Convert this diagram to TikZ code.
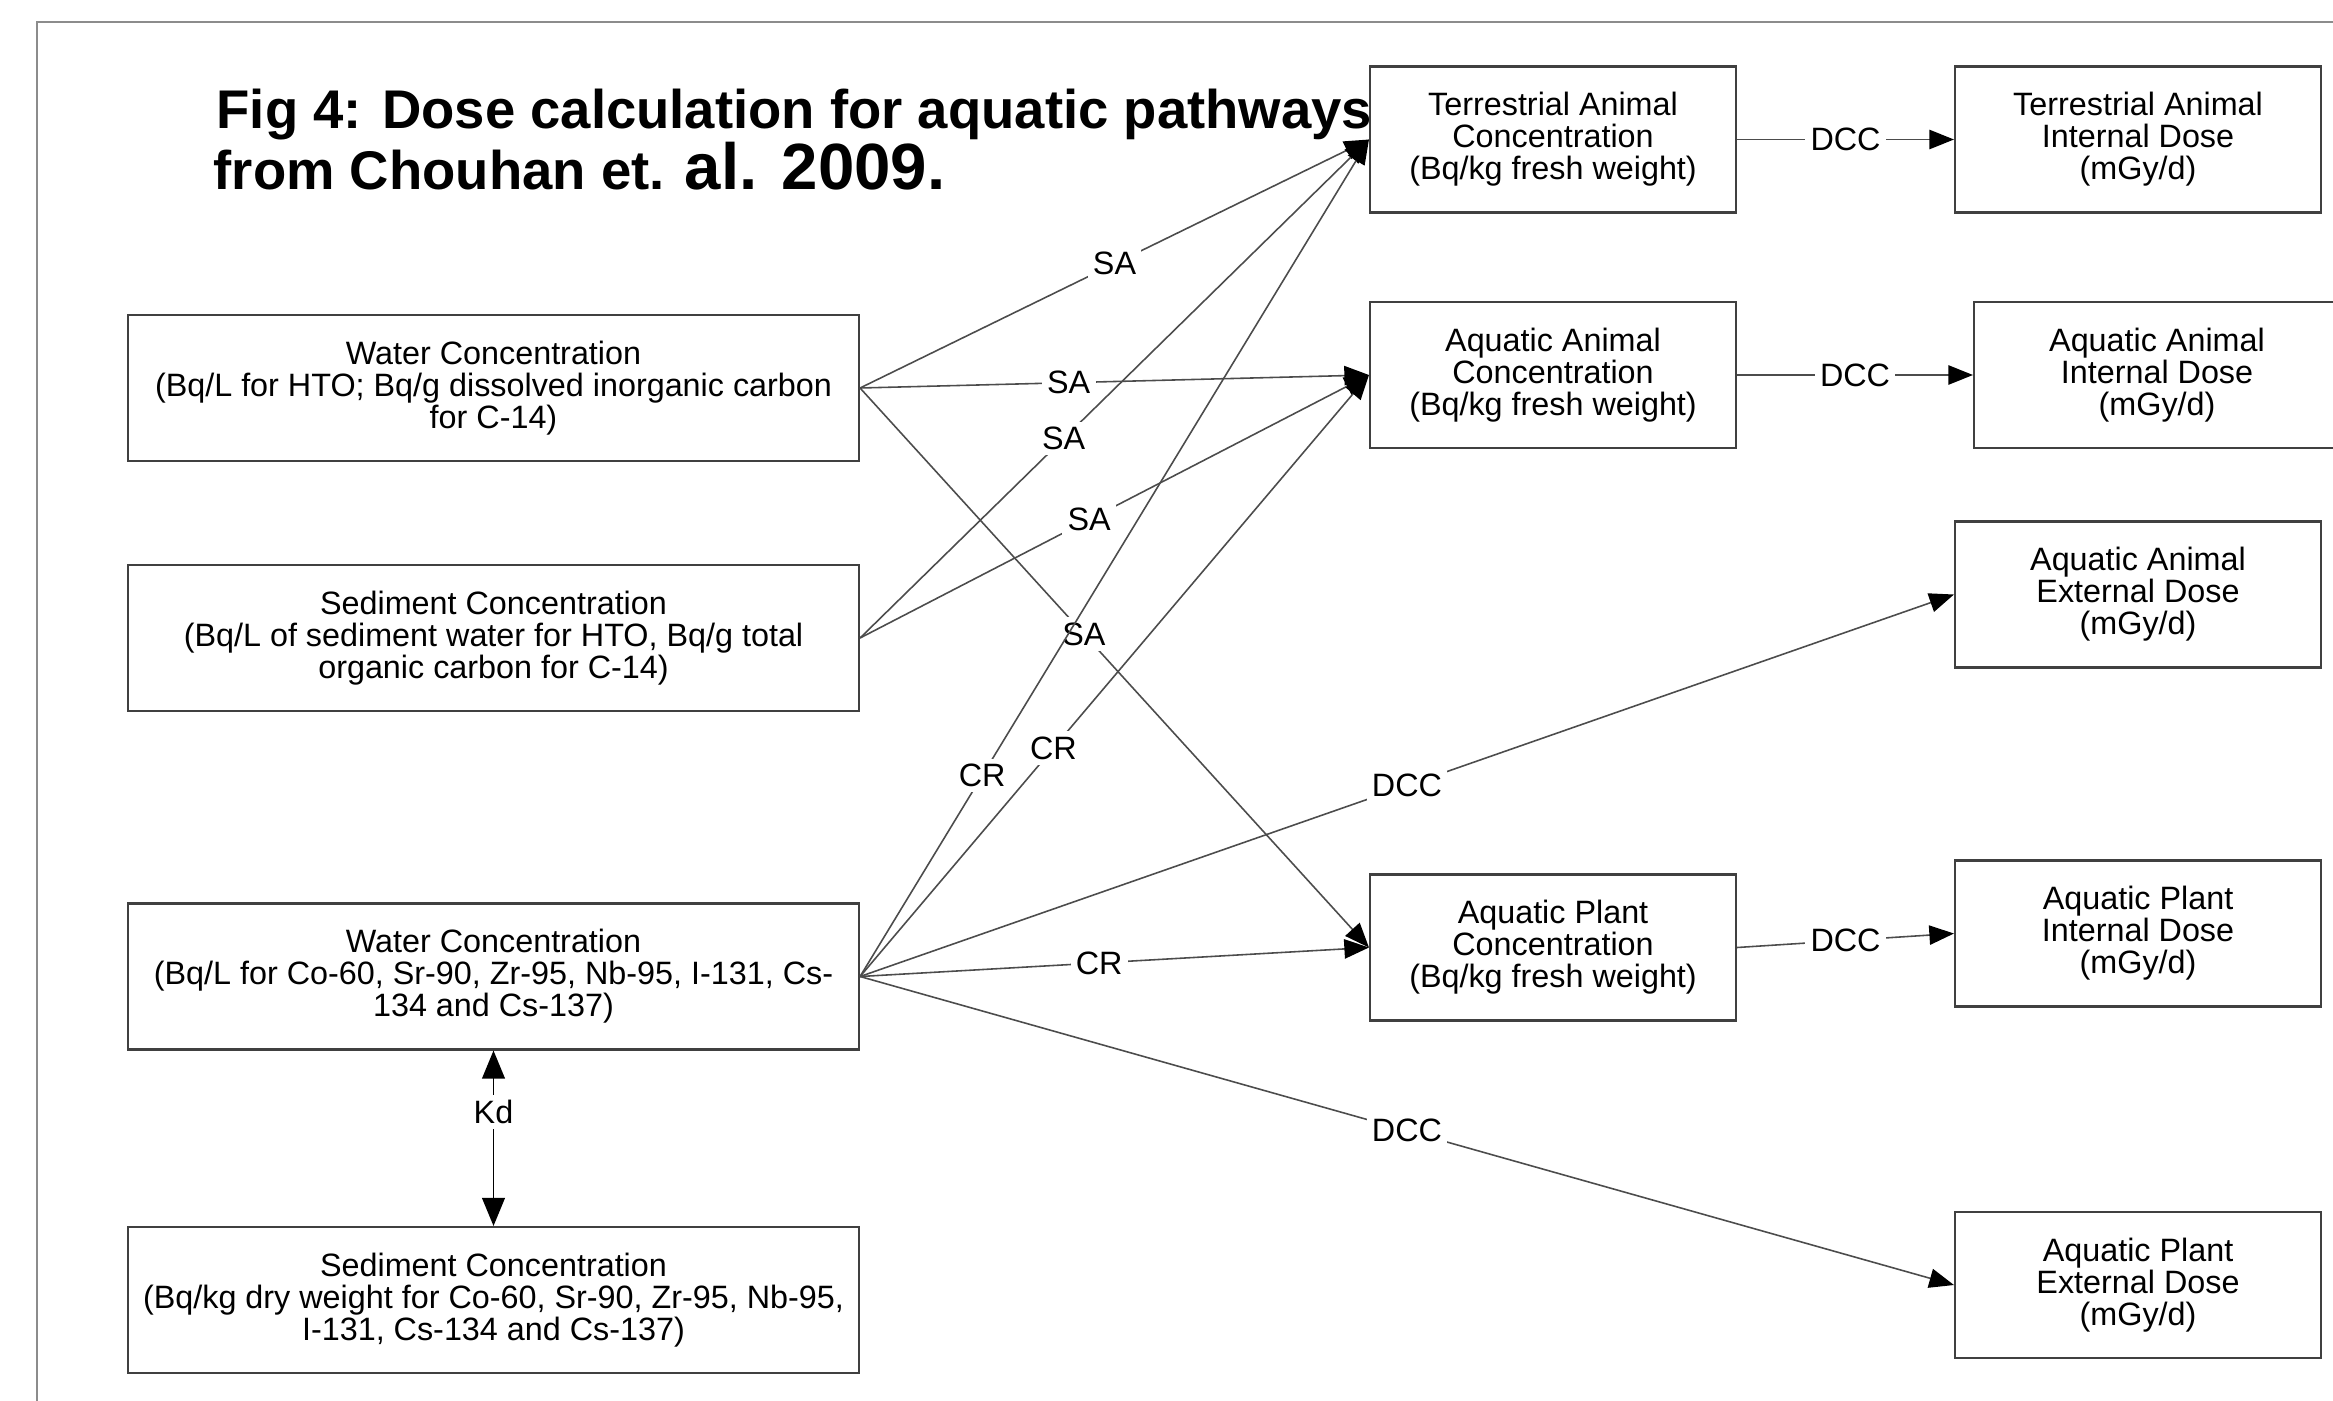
\documentclass[tikz,border=0pt]{standalone}
\usepackage{fontspec}
\setmainfont{Liberation Sans}
\usetikzlibrary{arrows.meta, positioning}

\begin{document}
\begin{tikzpicture}[
  pool/.style={
    draw=black!75, line width=0.6pt, minimum width=7.31cm, minimum height=1.46cm,
    align=center, inner sep=0pt, font=\fontsize{9.2}{9.1}\selectfont
  },
  dose/.style={pool, minimum width=3.66cm},
  factor/.style={fill=white, inner sep=1.5pt, font=\fontsize{9.2}{9.1}\selectfont},
  link/.style={draw=black!70, line width=0.45pt, -{Triangle[length=7pt,width=5.5pt,color=black]}},
  heading/.style={anchor=base west, inner sep=0pt, font=\fontsize{15.5}{18}\selectfont\bfseries}
]
\useasboundingbox (0,0) rectangle (23.33,-14);

% Page frame (runs off the right and bottom edges)
\begin{scope}
  \clip (0,0) rectangle (23.33,-14);
  \draw[black!45, line width=0.7pt] (0.37,-15) -- (0.37,-0.22) -- (24,-0.22);
\end{scope}

% Title
\node[heading] (title1) at (2.16,-1.28) {Fig 4: Dose calculation for aquatic pathways};
\node[heading] (title2) at (2.13,-1.89) {from Chouhan et. {\fontsize{18.6}{20}\selectfont\bfseries al. 2009.}};

% Source concentrations
\node[pool] (w1) at (4.935,-3.88) {Water Concentration\\(Bq/L for HTO; Bq/g dissolved inorganic carbon\\for C-14)};
\node[pool] (s1) at (4.935,-6.38) {Sediment Concentration\\(Bq/L of sediment water for HTO, Bq/g total\\organic carbon for C-14)};
\node[pool] (w2) at (4.935,-9.765) {Water Concentration\\(Bq/L for Co-60, Sr-90, Zr-95, Nb-95, I-131, Cs-\\134 and Cs-137)};
\node[pool] (s2) at (4.935,-13.00) {Sediment Concentration\\(Bq/kg dry weight for Co-60, Sr-90, Zr-95, Nb-95,\\I-131, Cs-134 and Cs-137)};

% Biota concentrations
\node[dose] (tac) at (15.53,-1.395) {Terrestrial Animal\\Concentration\\(Bq/kg fresh weight)};
\node[dose] (aac) at (15.53,-3.75) {Aquatic Animal\\Concentration\\(Bq/kg fresh weight)};
\node[dose] (apc) at (15.53,-9.475) {Aquatic Plant\\Concentration\\(Bq/kg fresh weight)};

% Doses
\node[dose] (taid) at (21.38,-1.395) {Terrestrial Animal\\Internal Dose\\(mGy/d)};
\node[dose] (aaid) at (21.57,-3.75) {Aquatic Animal\\Internal Dose\\(mGy/d)};
\node[dose] (aaed) at (21.38,-5.945) {Aquatic Animal\\External Dose\\(mGy/d)};
\node[dose] (apid) at (21.38,-9.335) {Aquatic Plant\\Internal Dose\\(mGy/d)};
\node[dose] (aped) at (21.38,-12.85) {Aquatic Plant\\External Dose\\(mGy/d)};

% HTO / C-14 water links
\draw[link] (w1.east) -- (tac.west) node[factor, pos=0.5] {SA};
\draw[link] (w1.east) -- (aac.west) node[factor, pos=0.41] {SA};
\draw[link] (w1.east) -- (apc.west) node[factor, pos=0.44] {SA};

% HTO / C-14 sediment links
\draw[link] (s1.east) -- (tac.west) node[factor, pos=0.40] {SA};
\draw[link] (s1.east) -- (aac.west) node[factor, pos=0.45] {SA};

% Other radionuclides, water links
\draw[link] (w2.east) -- (tac.west) node[factor, pos=0.24] {CR};
\draw[link] (w2.east) -- (aac.west) node[factor, pos=0.38] {CR};
\draw[link] (w2.east) -- (apc.west) node[factor, pos=0.47] {CR};
\draw[link] (w2.east) -- (aaed.west) node[factor, pos=0.5] {DCC};
\draw[link] (w2.east) -- (aped.west) node[factor, pos=0.5] {DCC};

% Water <-> sediment partitioning
\draw[link, draw=black, {Triangle[length=8pt,width=6.5pt]}-{Triangle[length=8pt,width=6.5pt]}]
  (w2) -- (s2) node[factor, pos=0.35] {Kd};

% Internal dose links
\draw[link] (tac) -- (taid) node[factor, pos=0.5] {DCC};
\draw[link] (aac) -- (aaid) node[factor, pos=0.5] {DCC};
\draw[link] (apc.east) -- (apid.west) node[factor, pos=0.5] {DCC};

\end{tikzpicture}
\end{document}
